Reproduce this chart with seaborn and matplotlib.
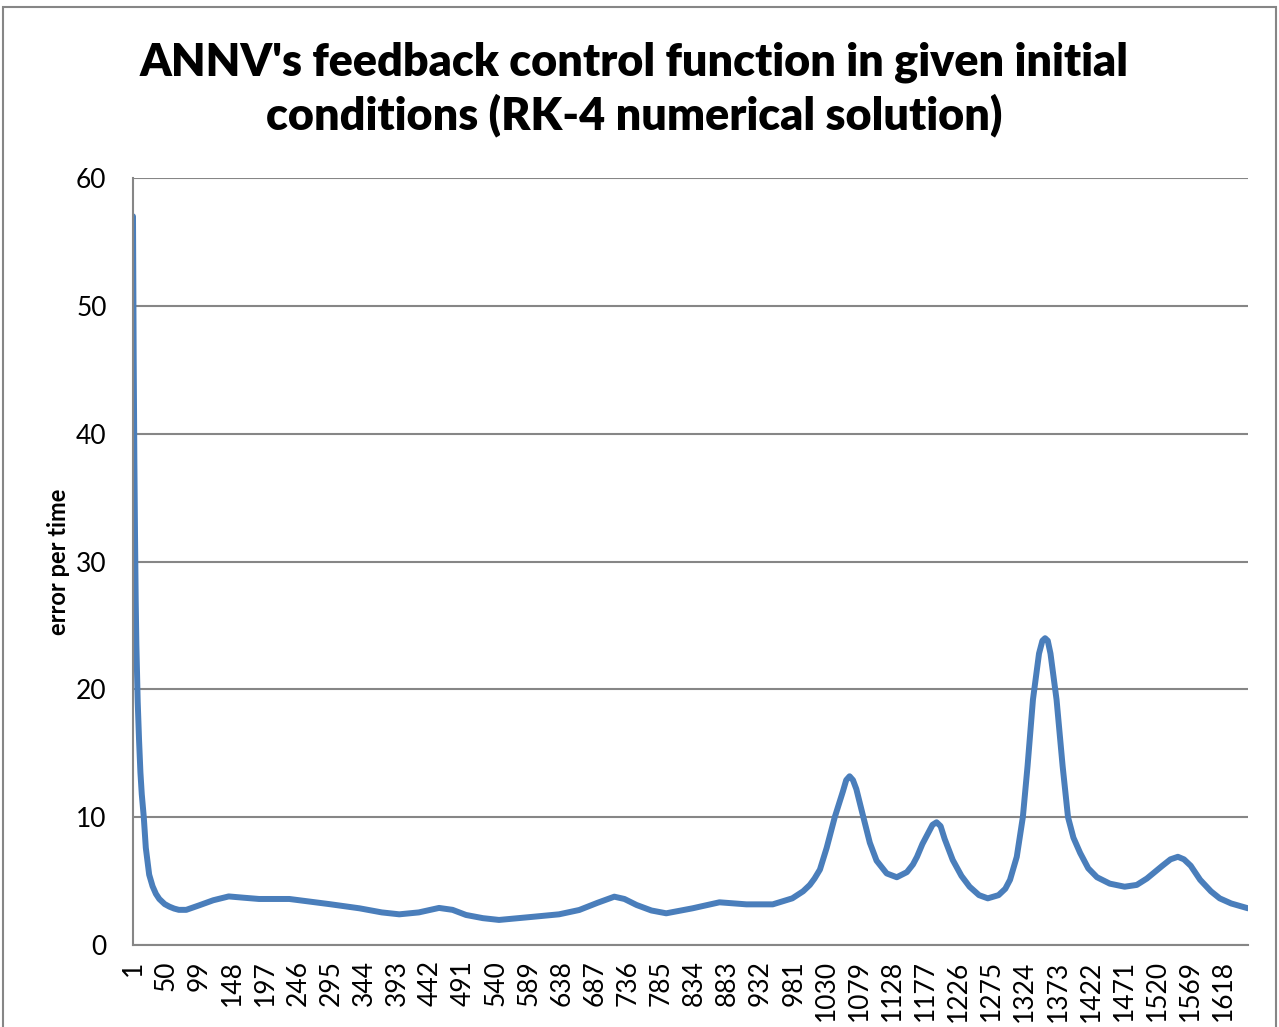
import pandas as pd
import seaborn as sns
import matplotlib.pyplot as plt
from matplotlib.patches import Rectangle

# 판독한 곡선 위치 (시간 인덱스, 오차)
step_idx = [1, 2, 3, 4, 5, 6, 8, 10, 12, 14, 17, 20, 25, 30, 35, 40, 48, 55, 62, 69, 80,
            99, 120, 143, 165, 188, 233, 292, 337, 370, 396, 425, 455, 475, 495, 520, 544,
            593, 633, 663, 690, 715, 730, 748, 770, 792, 831, 871, 911, 950, 979, 995, 1005,
            1012, 1020, 1030, 1042, 1054, 1059, 1064, 1069, 1074, 1083, 1094, 1104, 1119,
            1134, 1149, 1158, 1164, 1172, 1180, 1187, 1193, 1199, 1205, 1217, 1230, 1242,
            1256, 1269, 1285, 1295, 1302, 1312, 1321, 1328, 1336, 1345, 1350, 1354, 1358,
            1362, 1371, 1380, 1388, 1396, 1406, 1418, 1431, 1450, 1472, 1490, 1505, 1528,
            1540, 1551, 1560, 1570, 1584, 1600, 1613, 1630, 1655]
error_vals = [57.0, 46.0, 38.0, 32.0, 27.0, 23.5, 19.0, 16.0, 13.5, 11.8, 10.0, 7.6, 5.5,
              4.6, 4.0, 3.6, 3.2, 3.0, 2.85, 2.75, 2.75, 3.1, 3.5, 3.8, 3.7, 3.6, 3.6, 3.2,
              2.87, 2.55, 2.4, 2.55, 2.9, 2.75, 2.35, 2.1, 1.96, 2.2, 2.4, 2.74, 3.3, 3.78,
              3.6, 3.13, 2.7, 2.48, 2.87, 3.34, 3.18, 3.18, 3.65, 4.2, 4.7, 5.2, 5.9, 7.6,
              10.0, 12.0, 12.9, 13.2, 12.9, 12.2, 10.3, 8.0, 6.6, 5.6, 5.3, 5.7, 6.3, 6.9,
              7.9, 8.7, 9.4, 9.6, 9.3, 8.3, 6.65, 5.4, 4.56, 3.9, 3.65, 3.9, 4.4, 5.1, 6.9,
              10.0, 14.0, 19.2, 22.8, 23.8, 24.0, 23.8, 22.8, 19.2, 14.0, 10.0, 8.4, 7.2,
              6.0, 5.3, 4.8, 4.56, 4.7, 5.2, 6.2, 6.7, 6.9, 6.7, 6.2, 5.1, 4.2, 3.65, 3.25,
              2.87]

x_ticks = [1, 50, 99, 148, 197, 246, 295, 344, 393, 442, 491, 540, 589, 638, 687, 736,
           785, 834, 883, 932, 981, 1030, 1079, 1128, 1177, 1226, 1275, 1324, 1373, 1422,
           1471, 1520, 1569, 1618]
y_ticks = [0, 10, 20, 30, 40, 50, 60]

df = pd.DataFrame({'step': step_idx, 'error': error_vals})

sns.set_theme(style='white')
plt.rcParams['font.family'] = ['Lato', 'DejaVu Sans']
plt.rcParams['text.color'] = 'black'
plt.rcParams['axes.labelcolor'] = 'black'
plt.rcParams['xtick.color'] = 'black'
plt.rcParams['ytick.color'] = 'black'

fig = plt.figure(figsize=(12.79, 10.27), dpi=100)
ax = fig.add_axes([133 / 1279, 82 / 1027, 1115 / 1279, 767 / 1027])

# 차트 외곽 테두리
fig.patches.append(Rectangle((3 / 1279, -0.05), 1273 / 1279, 1.05 - 7 / 1027,
                             transform=fig.transFigure, fill=False,
                             edgecolor='#868686', linewidth=1.5))

sns.lineplot(data=df, x='step', y='error', ax=ax, color='#4a7ebb', linewidth=4.3)

ax.set_xlim(1, 1655)
ax.set_ylim(0, 60)
ax.set_xticks(x_ticks)
ax.set_xticklabels([str(t) for t in x_ticks], rotation=90, fontsize=19)
ax.set_yticks(y_ticks)
ax.set_yticklabels([str(t) for t in y_ticks], fontsize=19)
ax.tick_params(axis='both', length=0)
ax.tick_params(axis='y', pad=19)
ax.tick_params(axis='x', pad=11)

ax.grid(axis='y', color='#868686', linewidth=1.5)
ax.set_axisbelow(True)
for side in ['top', 'right']:
    ax.spines[side].set_visible(False)
for side in ['left', 'bottom']:
    ax.spines[side].set_color('#868686')
    ax.spines[side].set_linewidth(1.5)

ax.set_xlabel('')
ax.set_ylabel('error per time', fontsize=17, fontweight='bold', labelpad=4)

fig.text(0.496, 0.96, "ANNV's feedback control function in given initial\nconditions (RK-4 numerical solution)",
         ha='center', va='top', fontsize=32.3, fontweight='heavy', linespacing=1.3)

fig.savefig('out.png', dpi=100)
